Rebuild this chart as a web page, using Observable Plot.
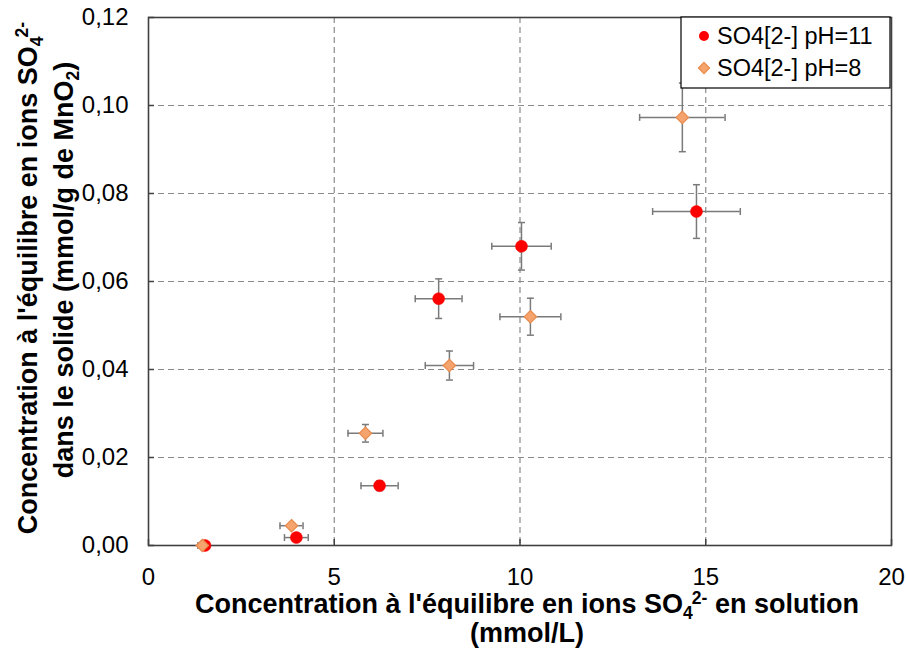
<!DOCTYPE html>
<html>
<head>
<meta charset="utf-8">
<script src="https://cdn.jsdelivr.net/npm/d3@7"></script>
<script src="https://cdn.jsdelivr.net/npm/@observablehq/plot@0.6"></script>
<style>
  html, body { margin: 0; padding: 0; background: #fff; }
  #chart { width: 906px; height: 650px; }
</style>
</head>
<body>
<div id="chart"></div>
<script>
// ---- Data ----
const xTicks = [0, 5, 10, 15, 20];
const yTicks = [0, 0.02, 0.04, 0.06, 0.08, 0.10, 0.12];
const xGridLines = [5, 10, 15];
const yGridLines = [0.02, 0.04, 0.06, 0.08, 0.10];

const seriesNames = ["SO4[2-] pH=11", "SO4[2-] pH=8"];

// pH = 11 (red circles)
const xPH11 = [1.52, 3.98, 6.22, 7.81, 10.04, 14.75];
const yPH11 = [0.0, 0.0018, 0.0136, 0.0561, 0.0680, 0.0759];
const xErrPH11 = [0.12, 0.32, 0.50, 0.63, 0.80, 1.18];
const yErrPH11 = [0.0, 0.00015, 0.0011, 0.0045, 0.0054, 0.0061];

// pH = 8 (orange diamonds)
const xPH8 = [1.45, 3.85, 5.84, 8.10, 10.28, 14.37];
const yPH8 = [0.0, 0.0045, 0.0255, 0.0409, 0.0520, 0.0973];
const xErrPH8 = [0.12, 0.31, 0.47, 0.65, 0.82, 1.15];
const yErrPH8 = [0.0, 0.00036, 0.0020, 0.0033, 0.0042, 0.0078];

// ---- Build rows ----
const rows11 = xPH11.map((x, i) => ({x, y: yPH11[i], xe: xErrPH11[i], ye: yErrPH11[i], s: seriesNames[0]}));
const rows8 = xPH8.map((x, i) => ({x, y: yPH8[i], xe: xErrPH8[i], ye: yErrPH8[i], s: seriesNames[1]}));
const allRows = rows11.concat(rows8);

const errColor = "#7a7a7a";
const vCap = { draw(ctx, size) { const r = Math.sqrt(size / Math.PI); ctx.moveTo(0, -r); ctx.lineTo(0, r); } };
const hCap = { draw(ctx, size) { const r = Math.sqrt(size / Math.PI); ctx.moveTo(-r, 0); ctx.lineTo(r, 0); } };

const W = 906, H = 650, mL = 148, mR = 15, mT = 17, mB = 105;
const fmtY = d => d.toFixed(2).replace(".", ",");
const font = "'Liberation Sans', Arial, sans-serif";

const chart = Plot.plot({
  width: W, height: H,
  marginLeft: mL, marginRight: mR, marginTop: mT, marginBottom: mB,
  style: { fontFamily: font, fontSize: "24px", color: "#000", background: "#fff" },
  x: { domain: [0, 20] },
  y: { domain: [0, 0.12] },
  marks: [
    Plot.gridX(xGridLines, { stroke: "#8a8a8a", strokeOpacity: 1, strokeWidth: 1.2, strokeDasharray: "6,4" }),
    Plot.gridY(yGridLines, { stroke: "#8a8a8a", strokeOpacity: 1, strokeWidth: 1.2, strokeDasharray: "6,4" }),
    Plot.tickX(xTicks, { x: d => d, insetTop: (H - mT - mB) - 6, stroke: "#404040", strokeWidth: 1.5 }),
    Plot.tickY(yTicks, { y: d => d, insetRight: (W - mL - mR) - 6, stroke: "#404040", strokeWidth: 1.5 }),
    Plot.frame({ stroke: "#404040", strokeWidth: 1.6 }),
    Plot.axisX({ ticks: xTicks, tickSize: 0, tickPadding: 22, tickFormat: d => String(d), label: null, fontSize: 24 }),
    Plot.axisY({ ticks: yTicks, tickSize: 0, tickPadding: 20, tickFormat: fmtY, label: null, fontSize: 24 }),
    // error bars
    Plot.ruleY(allRows, { y: "y", x1: d => d.x - d.xe, x2: d => d.x + d.xe, stroke: errColor, strokeWidth: 1.5 }),
    Plot.ruleX(allRows, { x: "x", y1: d => d.y - d.ye, y2: d => d.y + d.ye, stroke: errColor, strokeWidth: 1.5 }),
    Plot.dot(allRows, { x: d => d.x - d.xe, y: "y", symbol: vCap, r: 3.5, stroke: errColor, strokeWidth: 1.5, fill: "none" }),
    Plot.dot(allRows, { x: d => d.x + d.xe, y: "y", symbol: vCap, r: 3.5, stroke: errColor, strokeWidth: 1.5, fill: "none" }),
    Plot.dot(allRows.filter(d => d.ye > 0), { x: "x", y: d => d.y - d.ye, symbol: hCap, r: 3.5, stroke: errColor, strokeWidth: 1.5, fill: "none" }),
    Plot.dot(allRows.filter(d => d.ye > 0), { x: "x", y: d => d.y + d.ye, symbol: hCap, r: 3.5, stroke: errColor, strokeWidth: 1.5, fill: "none" }),
    // markers
    Plot.dot(rows11, { x: "x", y: "y", r: 6, fill: "#ff0000", stroke: "#ff0000", strokeWidth: 0.5 }),
    Plot.dot(rows8, { x: "x", y: "y", r: 5.6, symbol: "diamond2", fill: "#f4a46c", stroke: "#e88a4c", strokeWidth: 1.2 })
  ]
});

document.getElementById("chart").appendChild(chart);

// ---- Titles & legend (added into the SVG) ----
const svg = d3.select(chart);

function richText(sel, parts) {
  parts.forEach(p => {
    const t = sel.append("tspan").text(p.t);
    if (p.small) t.attr("font-size", "0.65em");
    if (p.dy) t.attr("dy", p.dy);
    if (p.dx) t.attr("dx", p.dx);
  });
}
function titleText(x, y, transform) {
  const t = svg.append("text").attr("text-anchor", "middle").attr("font-family", font)
    .attr("font-size", 27).attr("font-weight", "bold").attr("fill", "#000");
  if (transform) t.attr("transform", transform); else t.attr("x", x).attr("y", y);
  return t;
}

// X axis title
richText(titleText(527, 613), [
  { t: "Concentration à l'équilibre en ions SO" },
  { t: "4", small: true, dy: 6 },
  { t: "2-", small: true, dy: -15, dx: -1 },
  { t: " en solution", dy: 9 }
]);
titleText(527, 642).text("(mmol/L)");

// Y axis title (rotated)
const ycx1 = 278, ycx2 = 270;
richText(titleText(0, 0, `translate(37,${ycx1}) rotate(-90)`), [
  { t: "Concentration à l'équilibre en ions SO" },
  { t: "4", small: true, dy: 6 },
  { t: "2-", small: true, dy: -15, dx: -1 }
]);
richText(titleText(0, 0, `translate(73,${ycx2}) rotate(-90)`), [
  { t: "dans le solide (mmol/g de MnO" },
  { t: "2", small: true, dy: 6 },
  { t: ")", dy: -6 }
]);

// Legend
const lg = svg.append("g");
const lx = 681, ly = 17, lw = 209, lh = 71;
lg.append("rect").attr("x", lx).attr("y", ly).attr("width", lw).attr("height", lh)
  .attr("fill", "#fff").attr("stroke", "#000").attr("stroke-width", 1.2);
lg.append("circle").attr("cx", lx + 23).attr("cy", ly + 19).attr("r", 5).attr("fill", "#ff0000");
lg.append("path").attr("d", d3.symbol(d3.symbolDiamond2, 80)()).attr("transform", `translate(${lx + 23},${ly + 51})`)
  .attr("fill", "#f4a46c").attr("stroke", "#e88a4c").attr("stroke-width", 1.2);
lg.append("text").attr("x", lx + 36).attr("y", ly + 27).attr("text-anchor", "start").attr("font-family", font)
  .attr("font-size", 23.5).attr("fill", "#000").text(seriesNames[0]);
lg.append("text").attr("x", lx + 36).attr("y", ly + 59).attr("text-anchor", "start").attr("font-family", font)
  .attr("font-size", 23.5).attr("fill", "#000").text(seriesNames[1]);
</script>
</body>
</html>
